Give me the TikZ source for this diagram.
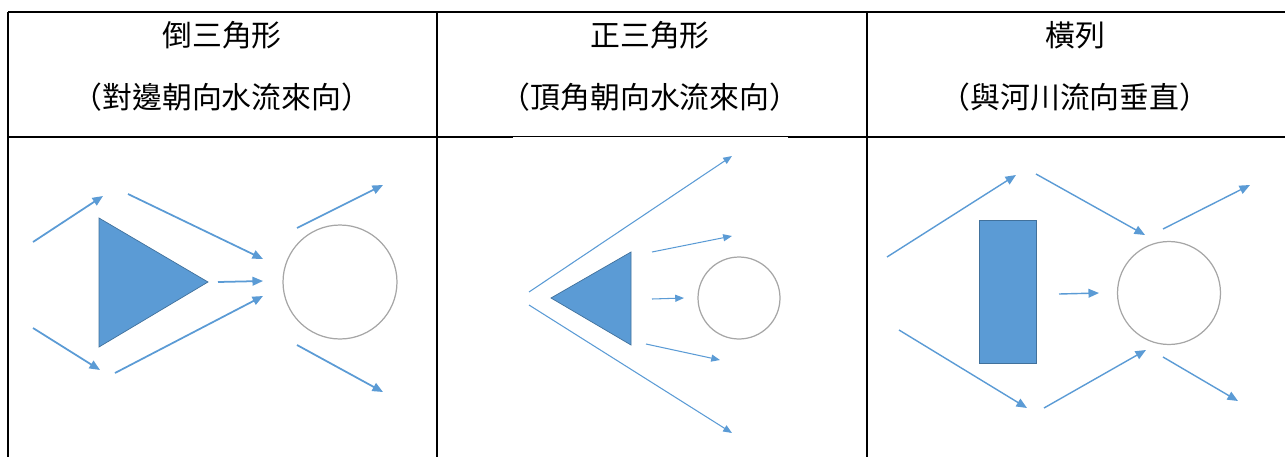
\documentclass[tikz,border=0pt]{standalone}
\usepackage{fontspec}
\newfontfamily\cjk{Noto Sans CJK TC}
\usetikzlibrary{arrows.meta}
\definecolor{flowblue}{HTML}{5B9BD5}
\definecolor{pieredge}{HTML}{41719C}
\definecolor{pilegray}{HTML}{A6A6A6}
\tikzset{
  rule/.style={black,line width=1.1pt},
  flow/.style={flowblue,line width=0.8pt,-{Triangle[length=6pt,width=5pt]}},
  pier/.style={fill=flowblue,draw=pieredge,line width=0.4pt},
  pile/.style={draw=pilegray,line width=0.7pt,circle,inner sep=0pt},
  head/.style={font=\cjk\fontsize{17}{20}\selectfont,inner sep=0pt}
}

\begin{document}
\begin{tikzpicture}[x=0.02cm,y=-0.02cm]
\useasboundingbox (0,0) rectangle (1285,457);
% table lines
\draw[rule] (8,12) -- (1285,12);
\draw[rule] (8,137) -- (513,137);
\draw[rule] (788,137) -- (1285,137);
\draw[black,line width=0.6pt] (513,136.5) -- (788,136.5);
\foreach \x in {8,437,867} \draw[rule] (\x,12) -- (\x,457);
% headers
\node[head] (h1a) at (222,35) {倒三角形};
\node[head] (h1b) at (222,97) {（對邊朝向水流來向）};
\node[head] (h2a) at (650,35) {正三角形};
\node[head] (h2b) at (650,97) {（頂角朝向水流來向）};
\node[head] (h3a) at (1075,35) {橫列};
\node[head] (h3b) at (1075,97) {（與河川流向垂直）};
% inverted triangle
\filldraw[pier] (99,218) -- (208,282) -- (99,347) -- cycle;
\node[pile,minimum size=2.28cm] (p1) at (340,282) {};
\foreach \xa/\ya/\xb/\yb in {33/242/103/196, 128/194/263/259, 218/282/263/281,
  115/373/263/296, 33/328/100/370, 297/228/383/185, 297/345/383/392}
  \draw[flow,line width=1pt] (\xa,\ya) -- (\xb,\yb);
% upright triangle
\filldraw[pier] (551,298) -- (631,252) -- (631,345) -- cycle;
\node[pile,minimum size=1.64cm] (p2) at (739,298) {};
\foreach \xa/\ya/\xb/\yb in {529/292/732/156, 529/305/732/433, 652/252/732/236,
  652/299/684/298, 646/344/720/360}
  \draw[flow,line width=0.6pt,-{Triangle[length=5pt,width=4pt]}] (\xa,\ya) -- (\xb,\yb);
% side by side
\filldraw[pier] (979,220) rectangle (1036,363);
\node[pile,minimum size=2.06cm] (p3) at (1169,293) {};
\foreach \xa/\ya/\xb/\yb in {887/257/1016/175, 1036/174/1145/235, 1059/294/1099/293,
  899/330/1027/408, 1044/408/1146/350, 1163/229/1250/185, 1163/357/1238/401}
  \draw[flow] (\xa,\ya) -- (\xb,\yb);
\end{tikzpicture}
\end{document}
